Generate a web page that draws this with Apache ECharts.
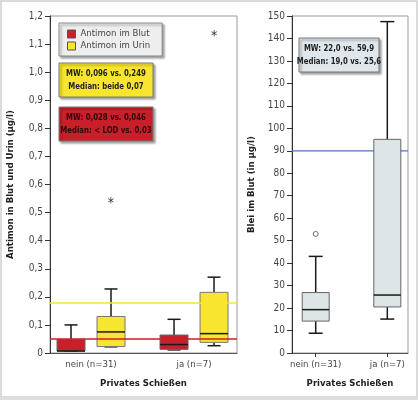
<!DOCTYPE html>
<html>
<head>
<meta charset="utf-8">
<script src="https://cdn.jsdelivr.net/npm/echarts@6/dist/echarts.min.js"></script>
<style>
html,body{margin:0;padding:0;background:#fff;}
#chart{width:418px;height:400px;}
</style>
</head>
<body>
<div id="chart"></div>
<script>
// ---------- data ----------
const categories = ['nein (n=31)', 'ja (n=7)'];
// [min, Q1, median, Q3, max]
const antimonBlut = [[0.007, 0.007, 0.007, 0.048, 0.100], [0.011, 0.013, 0.030, 0.064, 0.120]];
const antimonUrin = [[0.022, 0.023, 0.075, 0.130, 0.228], [0.026, 0.038, 0.069, 0.216, 0.270]];
const antimonUrinOutliers = [[0, 0.544], [1, 1.138]];
const bleiBlut = [[8.8, 14.2, 19.3, 26.9, 43.0], [15.1, 20.5, 25.8, 95.1, 147.5]];
const bleiOutliers = [[0, 53.0]];
const refAntimonUrin = 0.178;
const refAntimonBlut = 0.049;
const refBlei = 90;
const antimonTicks = ['0', '0,1', '0,2', '0,3', '0,4', '0,5', '0,6', '0,7', '0,8', '0,9', '1,0', '1,1', '1,2'];
const bleiTicks = ['0', '10', '20', '30', '40', '50', '60', '70', '80', '90', '100', '110', '120', '130', '140', '150'];
const legendNames = ['Antimon im Blut', 'Antimon im Urin'];
const noteUrin = ['MW: 0,096 vs. 0,249', 'Median: beide 0,07'];
const noteBlut = ['MW: 0,028 vs. 0,046', 'Median: < LOD vs. 0,03'];
const noteBlei = ['MW: 22,0 vs. 59,9', 'Median: 19,0 vs. 25,6'];

// ---------- style ----------
const FONT = '"DejaVu Sans Condensed", "DejaVu Sans", sans-serif';
const RED = '#c8202a';
const YELLOW = '#f7e52f';
const BLUEGRAY = '#dde5e6';
const BLUE = '#4a78c8';
const SHADOW = {shadowBlur: 2, shadowOffsetX: 2, shadowOffsetY: 2, shadowColor: 'rgba(0,0,0,0.35)'};

function boxRender(offset, halfW, capHalf, fill, stroke) {
  return function (params, api) {
    const x = api.coord([api.value(0), 0])[0] + offset;
    const py = i => api.coord([api.value(0), api.value(i)])[1];
    const yMin = py(1), yQ1 = py(2), yMed = py(3), yQ3 = py(4), yMax = py(5);
    const ls = {stroke: '#1a1a1a', lineWidth: 1.5};
    const children = [
      {type: 'line', shape: {x1: x, y1: yMax, x2: x, y2: yQ3}, style: ls},
      {type: 'line', shape: {x1: x - capHalf, y1: yMax, x2: x + capHalf, y2: yMax}, style: ls},
      {type: 'line', shape: {x1: x, y1: yQ1, x2: x, y2: yMin}, style: ls},
      {type: 'line', shape: {x1: x - capHalf, y1: yMin, x2: x + capHalf, y2: yMin}, style: ls},
      {type: 'rect', shape: {x: x - halfW, y: yQ3, width: 2 * halfW, height: yQ1 - yQ3},
        style: {fill: fill, stroke: stroke, lineWidth: 1}},
      {type: 'line', shape: {x1: x - halfW, y1: yMed, x2: x + halfW, y2: yMed}, style: {stroke: '#1a1a1a', lineWidth: 1.5}}
    ];
    return {type: 'group', children: children};
  };
}
function starRender(offset) {
  return function (params, api) {
    const p = api.coord([api.value(0), api.value(1)]);
    return {type: 'text', x: p[0] + offset, y: p[1] + 3,
      style: {text: '*', font: '14px ' + FONT, fill: '#333', align: 'center', verticalAlign: 'middle'}};
  };
}
function refLineRender(color, width) {
  return function (params, api) {
    const cs = params.coordSys;
    const y = api.coord([0, api.value(0)])[1];
    return {type: 'line',
      shape: {x1: cs.x, y1: y, x2: cs.x + cs.width, y2: y},
      style: {stroke: color, lineWidth: width}};
  };
}
const withIndex = arr => arr.map((v, i) => [i].concat(v));
function noteText(x, y, text, color, size, sx) {
  return {type: 'text', x: x, y: y, z: 21, scaleX: sx,
    style: {text: text, font: 'bold ' + size + 'px ' + FONT, fill: color, align: 'center', verticalAlign: 'middle'}};
}

const chart = echarts.init(document.getElementById('chart'), null, {renderer: 'canvas'});

const yAxisCommon = {
  type: 'value',
  nameLocation: 'middle',
  nameTextStyle: {fontFamily: FONT, fontWeight: 'bold', fontSize: 9.5, color: '#222'},
  axisLine: {show: true, onZero: false, lineStyle: {color: '#333', width: 1}},
  axisTick: {show: true, length: 5, lineStyle: {color: '#333'}},
  axisLabel: {fontFamily: FONT, fontSize: 10, color: '#444', margin: 7},
  splitLine: {show: false}
};
const xAxisCommon = {
  type: 'value',
  nameLocation: 'middle',
  nameGap: 26,
  nameTextStyle: {fontFamily: FONT, fontWeight: 'bold', fontSize: 9.5, color: '#222'},
  axisLine: {show: true, onZero: false, lineStyle: {color: '#555', width: 1}},
  splitLine: {show: false},
  axisLabel: {fontFamily: FONT, fontSize: 9.5, color: '#444', margin: 7,
    customValues: categories.map((c, i) => i), formatter: v => categories[v]}
};

const option = {
  backgroundColor: '#fff',
  animation: false,
  grid: [
    {left: 50, right: 181, top: 16, bottom: 47, show: true, borderColor: '#999', borderWidth: 1, backgroundColor: '#fff'},
    {left: 292, right: 10, top: 16, bottom: 47, show: true, borderColor: '#999', borderWidth: 1, backgroundColor: '#fff'}
  ],
  xAxis: [
    Object.assign({}, xAxisCommon, {gridIndex: 0, min: -0.398, max: 1.417, name: 'Privates Schießen',
      axisTick: {show: false}}),
    Object.assign({}, xAxisCommon, {gridIndex: 1, min: -0.331, max: 1.289, name: 'Privates Schießen',
      axisTick: {show: true, length: 4, inside: false, customValues: categories.map((c, i) => i), lineStyle: {color: '#333'}}})
  ],
  yAxis: [
    Object.assign({}, yAxisCommon, {gridIndex: 0, min: 0, max: 1.2, interval: 0.1, nameGap: 34,
      name: 'Antimon in Blut und Urin (µg/l)',
      axisLabel: Object.assign({}, yAxisCommon.axisLabel, {formatter: v => antimonTicks[Math.round(v * 10)]})}),
    Object.assign({}, yAxisCommon, {gridIndex: 1, min: 0, max: 150, interval: 10, nameGap: 35,
      name: 'Blei im Blut (in µg/l)',
      axisLabel: Object.assign({}, yAxisCommon.axisLabel, {formatter: v => bleiTicks[Math.round(v / 10)]})})
  ],
  legend: {
    data: legendNames,
    orient: 'vertical',
    left: 59, top: 23,
    padding: [5, 12, 4, 8],
    itemGap: 0,
    itemWidth: 8, itemHeight: 8,
    icon: 'rect',
    backgroundColor: '#eeeeee',
    borderColor: '#888', borderWidth: 1,
    shadowBlur: 2, shadowOffsetX: 2, shadowOffsetY: 2, shadowColor: 'rgba(0,0,0,0.35)',
    textStyle: {fontFamily: FONT, fontSize: 9.5, color: '#444', lineHeight: 12},
    itemStyle: {borderColor: '#555', borderWidth: 1}
  },
  series: [
    {name: legendNames[0], type: 'custom', xAxisIndex: 0, yAxisIndex: 0,
      itemStyle: {color: RED, borderColor: '#555', borderWidth: 1},
      encode: {x: 0, y: [1, 2, 3, 4, 5]},
      renderItem: boxRender(-20, 14, 6.5, RED, '#666'),
      data: withIndex(antimonBlut),
      markLine: {silent: true, symbol: 'none', z: 10, label: {show: false},
        data: [{yAxis: refAntimonBlut, lineStyle: {color: RED, type: 'solid', width: 1.5}}]}},
    {name: legendNames[1], type: 'custom', xAxisIndex: 0, yAxisIndex: 0,
      itemStyle: {color: YELLOW, borderColor: '#555', borderWidth: 1},
      encode: {x: 0, y: [1, 2, 3, 4, 5]},
      renderItem: boxRender(20, 14, 6.5, YELLOW, '#777'),
      data: withIndex(antimonUrin),
      markLine: {silent: true, symbol: 'none', z: 10, label: {show: false},
        data: [{yAxis: refAntimonUrin, lineStyle: {color: YELLOW, type: 'solid', width: 1.5}}]}},
    {name: 'Ausreißer Urin', type: 'custom', xAxisIndex: 0, yAxisIndex: 0,
      encode: {x: 0, y: 1},
      renderItem: starRender(20),
      data: antimonUrinOutliers},
    {name: 'Referenz Blei', type: 'custom', xAxisIndex: 1, yAxisIndex: 1, z: 1,
      encode: {y: 0},
      renderItem: refLineRender(BLUE, 1.2),
      data: [[refBlei]]},
    {name: 'Blei im Blut', type: 'custom', xAxisIndex: 1, yAxisIndex: 1, z: 3,
      itemStyle: {color: BLUEGRAY},
      encode: {x: 0, y: [1, 2, 3, 4, 5]},
      renderItem: boxRender(0, 13.5, 7, BLUEGRAY, '#666'),
      data: withIndex(bleiBlut)},
    {name: 'Ausreißer Blei', type: 'scatter', xAxisIndex: 1, yAxisIndex: 1,
      symbol: 'circle', symbolSize: 5,
      itemStyle: {color: '#fff', borderColor: '#333', borderWidth: 0.9},
      data: bleiOutliers}
  ],
  graphic: [
    {type: 'rect', silent: true, z: -1, shape: {x: 1, y: 1, width: 416, height: 396},
      style: {fill: 'none', stroke: '#cfcfcf', lineWidth: 1.5}},
    {type: 'rect', silent: true, shape: {x: 0, y: 397, width: 418, height: 3}, style: {fill: '#dedede'}},
    // Urin note
    {type: 'rect', shape: {x: 59, y: 63, width: 94, height: 34}, z: 20,
      style: Object.assign({fill: YELLOW, stroke: '#777', lineWidth: 1}, SHADOW)},
    noteText(106, 73.5, noteUrin[0], '#222', 9, 0.86),
    noteText(106, 87, noteUrin[1], '#222', 9, 0.86),
    // Blut note
    {type: 'rect', shape: {x: 59, y: 107, width: 94, height: 34}, z: 20,
      style: Object.assign({fill: RED, stroke: '#777', lineWidth: 1}, SHADOW)},
    noteText(106, 117.5, noteBlut[0], '#2a0808', 9, 0.86),
    noteText(106, 131, noteBlut[1], '#2a0808', 9, 0.86),
    // Blei note
    {type: 'rect', shape: {x: 299, y: 38, width: 80, height: 34}, z: 20,
      style: Object.assign({fill: '#dfe6ec', stroke: '#777', lineWidth: 1}, SHADOW)},
    noteText(339, 49, noteBlei[0], '#222', 9, 0.86),
    noteText(339, 62, noteBlei[1], '#222', 9, 0.86)
  ]
};
chart.setOption(option);
</script>
</body>
</html>
